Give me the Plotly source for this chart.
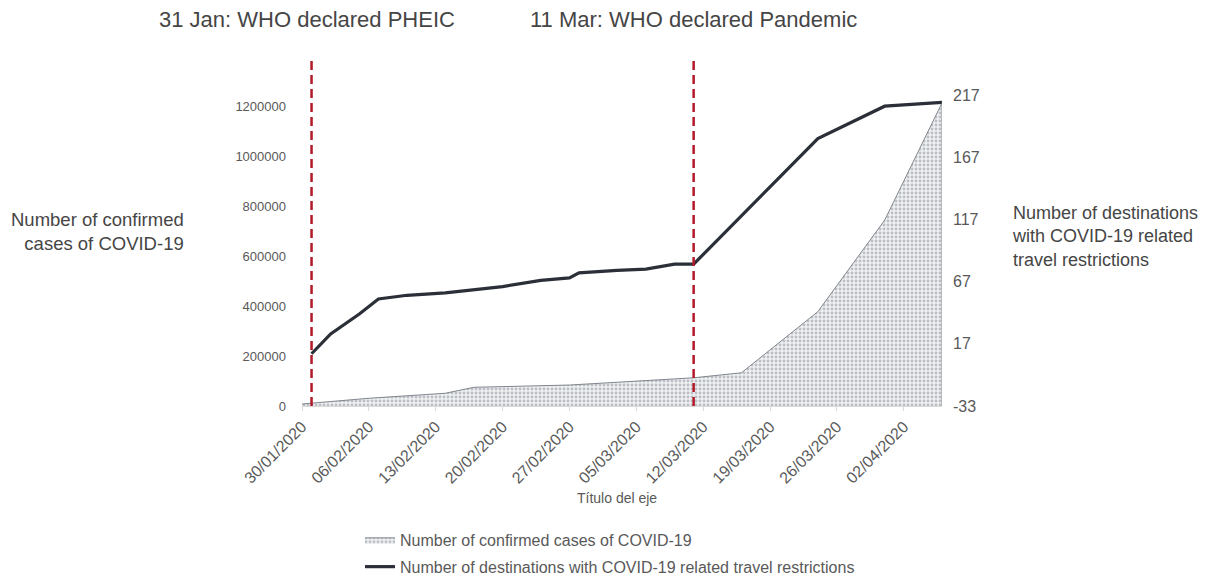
import plotly.graph_objects as go

# ---- data ----
case_dates = ["2020-01-30", "2020-02-06", "2020-02-14", "2020-02-17", "2020-02-27",
              "2020-03-06", "2020-03-11", "2020-03-16", "2020-03-24", "2020-03-31", "2020-04-06"]
case_values = [8000, 31000, 51000, 75000, 84000, 100000, 113000, 133000, 378000, 745000, 1215000]

dest_dates = ["2020-01-31", "2020-02-02", "2020-02-05", "2020-02-07", "2020-02-10",
              "2020-02-14", "2020-02-20", "2020-02-24", "2020-02-27", "2020-02-28",
              "2020-03-03", "2020-03-06", "2020-03-09", "2020-03-11", "2020-03-24",
              "2020-03-31", "2020-04-06"]
dest_values = [9, 25, 41, 53, 56, 58, 63, 68, 70, 74, 76, 77, 81, 81, 182, 208, 211]

tick_dates = ["2020-01-30", "2020-02-06", "2020-02-13", "2020-02-20", "2020-02-27",
              "2020-03-05", "2020-03-12", "2020-03-19", "2020-03-26", "2020-04-02"]
tick_labels = ["30/01/2020", "06/02/2020", "13/02/2020", "20/02/2020", "27/02/2020",
               "05/03/2020", "12/03/2020", "19/03/2020", "26/03/2020", "02/04/2020"]

left_ticks = [0, 200000, 400000, 600000, 800000, 1000000, 1200000]
right_ticks = [-33, 17, 67, 117, 167, 217]

event_dates = ["2020-01-31", "2020-03-11"]
event_labels = ["31 Jan: WHO declared PHEIC", "11 Mar: WHO declared Pandemic"]

FONT = "Liberation Sans, Arial, sans-serif"
GREY = "#595959"
DARK = "#454545"

fig = go.Figure()
fig.add_trace(go.Scatter(
    x=case_dates, y=case_values, name="Number of confirmed cases of COVID-19",
    mode="lines", fill="tozeroy", legendgroup="a",
    line=dict(color="#80868d", width=1),
    fillcolor="rgba(0,0,0,0)",
    fillpattern=dict(shape=".", fgcolor="#878e96", bgcolor="#eff1f3", size=4, solidity=0.42),
    yaxis="y",
))
fig.add_trace(go.Scatter(
    x=dest_dates, y=dest_values, name="Number of destinations with COVID-19 related travel restrictions",
    mode="lines", legendgroup="b", line=dict(color="#2a2f38", width=3.2),
    yaxis="y2",
))

# right-hand border of the area, at the last data point
fig.add_shape(type="line", xref="x", yref="y", x0=case_dates[-1], x1=case_dates[-1],
              y0=0, y1=case_values[-1], line=dict(color="#80868d", width=1))

for d in event_dates:
    fig.add_shape(type="line", xref="x", yref="paper", x0=d, x1=d, y0=0, y1=1.119,
                  line=dict(color="#b3192b", width=2.5, dash="9px,5px"))
for d, t, sh in zip(event_dates, event_labels, [-5, 0]):
    fig.add_annotation(x=d, xref="x", y=1.244, yref="paper", text=t, showarrow=False,
                       xanchor="center", yanchor="middle", xshift=sh,
                       font=dict(family=FONT, size=22, color=DARK))

fig.add_annotation(x=-0.182, xref="paper", y=0.560, yref="paper",
                   text="Number of confirmed<br>cases of COVID-19", showarrow=False,
                   xanchor="right", yanchor="middle", align="right",
                   font=dict(family=FONT, size=18.5, color=DARK))
fig.add_annotation(x=1.106, xref="paper", y=0.545, yref="paper",
                   text="Number of destinations<br>with COVID-19 related<br>travel restrictions",
                   showarrow=False, xanchor="left", yanchor="middle", align="left",
                   font=dict(family=FONT, size=18, color=DARK))
fig.add_annotation(x=0.492, xref="paper", y=-0.296, yref="paper", text="Título del eje",
                   showarrow=False, xanchor="center", yanchor="middle",
                   font=dict(family=FONT, size=14, color=GREY))

fig.update_layout(
    width=1207, height=570,
    margin=dict(l=294, r=273, t=87, b=172, autoexpand=False),
    paper_bgcolor="white", plot_bgcolor="white",
    font=dict(family=FONT, size=14, color=GREY),
    showlegend=True,
    legend=dict(x=0.0906, y=-0.376, xanchor="left", yanchor="top", orientation="v",
                font=dict(family=FONT, size=16, color=GREY), tracegroupgap=3,
                bgcolor="rgba(0,0,0,0)"),
    xaxis=dict(type="date", range=["2020-01-30", "2020-04-06"],
               tickvals=tick_dates, ticktext=tick_labels, tickangle=-45,
               tickfont=dict(family=FONT, size=16, color=GREY),
               showgrid=False, zeroline=False, showline=True, linecolor="#d9d9d9",
               ticks="outside", ticklen=4, tickcolor="#d9d9d9"),
    yaxis=dict(range=[0, 1246500], tickvals=left_ticks, ticktext=[str(v) for v in left_ticks],
               showgrid=False, zeroline=False, showline=False, ticklabelstandoff=15,
               tickfont=dict(family=FONT, size=13, color=GREY)),
    yaxis2=dict(range=[-33, 217], tickvals=right_ticks, ticktext=[str(v) for v in right_ticks],
                overlaying="y", side="right", showgrid=False, zeroline=False, showline=False,
                ticklabelstandoff=10, tickfont=dict(family=FONT, size=16, color=GREY)),
)

fig.write_html("out.html")
